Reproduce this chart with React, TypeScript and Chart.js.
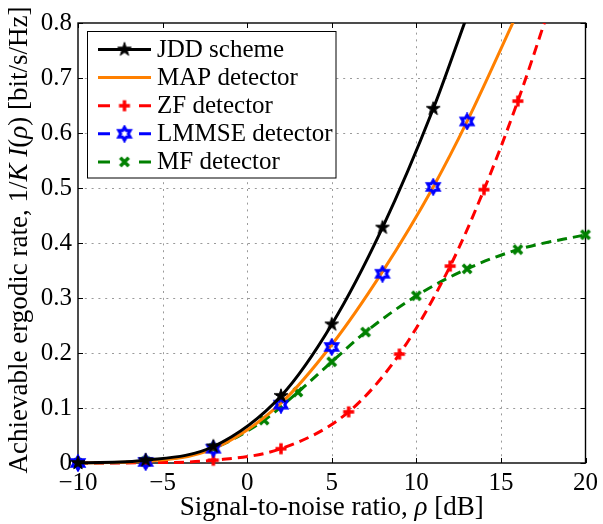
import React, { useEffect, useRef } from 'react';
import { Chart, registerables } from 'chart.js';

Chart.register(...registerables);

// ---- data ----
const xTicks = [-10, -5, 0, 5, 10, 15, 20];
const yTicks = [0, 0.1, 0.2, 0.3, 0.4, 0.5, 0.6, 0.7, 0.8];

const snrJDD = [-10, -6, -2, 2, 5, 8, 11, 13];
const rateJDD = [0, 0.005, 0.03, 0.122, 0.252, 0.428, 0.644, 0.813];

const snrMAP = [-10, -6, -2, 2, 5, 8, 11, 13, 16];
const rateMAP = [0, 0.003, 0.026, 0.109, 0.215, 0.348, 0.502, 0.621, 0.82];

const snrZF = [-10, -6, -2, 2, 6, 9, 12, 14, 16, 18];
const rateZF = [0, 0.0005, 0.005, 0.026, 0.093, 0.198, 0.358, 0.497, 0.658, 0.84];

const snrLMMSE = [-10, -6, -2, 2, 5, 8, 11, 13];
const rateLMMSE = [0, 0.002, 0.026, 0.106, 0.211, 0.344, 0.502, 0.621];

const snrMF = [-10, -6, -2, 1, 3, 5, 7, 10, 13, 16, 20];
const rateMF = [0, 0.003, 0.027, 0.078, 0.129, 0.184, 0.238, 0.304, 0.353, 0.388, 0.415];

const legendLabels = ['JDD scheme', 'MAP detector', 'ZF detector', 'LMMSE detector', 'MF detector'];

const xTitleSegs: [string, boolean][] = [['Signal-to-noise ratio, ', false], ['\u03C1', true], [' [dB]', false]];
const yTitleSegs: [string, boolean][] = [
  ['Achievable ergodic rate, 1/', false],
  ['K', true],
  [' ', false],
  ['I', true],
  ['(', false],
  ['\u03C1', true],
  [') [bit/s/Hz]', false],
];

const FONT = "'Liberation Serif', serif";
const TICK_FS = 25;
const LEG_FS = 25;
const TITLE_FS = 27;

const toXY = (xs: number[], ys: number[]) => xs.map((x, i) => ({ x, y: ys[i] }));

function makeMarker(kind: string, color: string): HTMLCanvasElement {
  const c = document.createElement('canvas');
  c.width = 18;
  c.height = 18;
  const g = c.getContext('2d')!;
  g.translate(9, 9);
  g.strokeStyle = color;
  g.fillStyle = color;
  if (kind === 'pentagram') {
    const R = 7.2, r = R * 0.382;
    g.beginPath();
    for (let i = 0; i < 10; i++) {
      const a = -Math.PI / 2 + (i * Math.PI) / 5;
      const rad = i % 2 === 0 ? R : r;
      const px = Math.cos(a) * rad, py = Math.sin(a) * rad;
      if (i === 0) g.moveTo(px, py); else g.lineTo(px, py);
    }
    g.closePath();
    g.fill();
    g.lineWidth = 1;
    g.stroke();
  } else if (kind === 'hexagram') {
    const R = 6.6, r = R / Math.sqrt(3);
    g.beginPath();
    for (let i = 0; i < 12; i++) {
      const a = -Math.PI / 2 + (i * Math.PI) / 6;
      const rad = i % 2 === 0 ? R : r;
      const px = Math.cos(a) * rad, py = Math.sin(a) * rad;
      if (i === 0) g.moveTo(px, py); else g.lineTo(px, py);
    }
    g.closePath();
    g.lineWidth = 3;
    g.stroke();
  } else if (kind === 'plus') {
    g.lineWidth = 3.5;
    g.beginPath();
    g.moveTo(-5.5, 0); g.lineTo(5.5, 0);
    g.moveTo(0, -5.5); g.lineTo(0, 5.5);
    g.stroke();
  } else if (kind === 'cross') {
    g.lineWidth = 3.5;
    g.beginPath();
    g.moveTo(-4.2, -4.2); g.lineTo(4.2, 4.2);
    g.moveTo(-4.2, 4.2); g.lineTo(4.2, -4.2);
    g.stroke();
  }
  return c;
}

function richWidth(ctx: CanvasRenderingContext2D, segs: [string, boolean][], fs: number) {
  let w = 0;
  for (const [t, it] of segs) {
    ctx.font = `${it ? 'italic ' : ''}${fs}px ${FONT}`;
    w += ctx.measureText(t).width;
  }
  return w;
}
function drawRich(ctx: CanvasRenderingContext2D, segs: [string, boolean][], x: number, y: number, fs: number) {
  let cx = x;
  for (const [t, it] of segs) {
    ctx.font = `${it ? 'italic ' : ''}${fs}px ${FONT}`;
    ctx.fillText(t, cx, y);
    cx += ctx.measureText(t).width;
  }
}

export default function App() {
  const ref = useRef<HTMLCanvasElement>(null);

  useEffect(() => {
    document.body.style.margin = '0';
    const canvas = ref.current!;
    const mk = {
      jdd: makeMarker('pentagram', '#000000'),
      zf: makeMarker('plus', '#ff0000'),
      lmmse: makeMarker('hexagram', '#0000ff'),
      mf: makeMarker('cross', '#008000'),
    };
    const clip = { left: 12, top: 0, right: 12, bottom: 12 };
    const DASH = [10, 6];

    const legendItems = [
      { color: '#000000', dash: false, marker: mk.jdd as HTMLCanvasElement | null },
      { color: '#ff8000', dash: false, marker: null },
      { color: '#ff0000', dash: true, marker: mk.zf },
      { color: '#0000ff', dash: true, marker: mk.lmmse },
      { color: '#008000', dash: true, marker: mk.mf },
    ];

    const framePlugin = {
      id: 'frame',
      beforeDatasetsDraw(ch: any) {
        const { ctx, chartArea: a, scales } = ch;
        const xs = scales.x, ys = scales.y;
        ctx.save();
        ctx.strokeStyle = '#9a9a9a';
        ctx.lineWidth = 1;
        ctx.setLineDash([2, 4.8]);
        for (const v of yTicks) {
          if (v === yTicks[0] || v === yTicks[yTicks.length - 1]) continue;
          const py = Math.round(ys.getPixelForValue(v)) + 0.5;
          ctx.beginPath(); ctx.moveTo(a.left, py); ctx.lineTo(a.right, py); ctx.stroke();
        }
        for (const v of xTicks) {
          if (v === xTicks[0] || v === xTicks[xTicks.length - 1]) continue;
          const px = Math.round(xs.getPixelForValue(v)) + 0.5;
          ctx.beginPath(); ctx.moveTo(px, a.bottom); ctx.lineTo(px, a.top); ctx.stroke();
        }
        ctx.setLineDash([]);
        ctx.strokeStyle = '#000';
        ctx.lineWidth = 1;
        const TL = 5;
        for (const v of yTicks) {
          const py = Math.round(ys.getPixelForValue(v)) + 0.5;
          ctx.beginPath();
          ctx.moveTo(a.left, py); ctx.lineTo(a.left + TL, py);
          ctx.moveTo(a.right, py); ctx.lineTo(a.right - TL, py);
          ctx.stroke();
        }
        for (const v of xTicks) {
          const px = Math.round(xs.getPixelForValue(v)) + 0.5;
          ctx.beginPath();
          ctx.moveTo(px, a.bottom); ctx.lineTo(px, a.bottom - TL);
          ctx.moveTo(px, a.top); ctx.lineTo(px, a.top + TL);
          ctx.stroke();
        }
        ctx.lineWidth = 1.4;
        ctx.strokeRect(a.left, a.top, a.right - a.left, a.bottom - a.top);
        ctx.restore();
      },
      afterDraw(ch: any) {
        const { ctx, chartArea: a } = ch;
        ctx.save();
        ctx.fillStyle = '#000';
        ctx.textBaseline = 'alphabetic';
        const xw = richWidth(ctx, xTitleSegs, TITLE_FS);
        drawRich(ctx, xTitleSegs, (a.left + a.right) / 2 - xw / 2, 515, TITLE_FS);
        const yw = richWidth(ctx, yTitleSegs, TITLE_FS);
        ctx.save();
        ctx.translate(27, (a.top + a.bottom) / 2 - 3);
        ctx.rotate(-Math.PI / 2);
        drawRich(ctx, yTitleSegs, -yw / 2, 0, TITLE_FS);
        ctx.restore();

        const bx = 87.5, by = 31.5, bw = 248.5, bh = 146.5;
        ctx.fillStyle = '#fff';
        ctx.fillRect(bx, by, bw, bh);
        ctx.strokeStyle = '#000';
        ctx.lineWidth = 1;
        ctx.strokeRect(bx, by, bw, bh);
        legendItems.forEach((it, i) => {
          const cy = 49.5 + i * 28.1;
          ctx.strokeStyle = it.color;
          ctx.lineWidth = 3;
          ctx.beginPath();
          if (it.dash) {
            ctx.moveTo(98, cy); ctx.lineTo(110, cy);
            ctx.moveTo(139, cy); ctx.lineTo(151, cy);
          } else {
            ctx.moveTo(98, cy); ctx.lineTo(151, cy);
          }
          ctx.stroke();
          if (it.marker) ctx.drawImage(it.marker, 124.5 - 9, cy - 9);
          ctx.fillStyle = '#000';
          ctx.font = `${LEG_FS}px ${FONT}`;
          ctx.textBaseline = 'middle';
          ctx.fillText(legendLabels[i], 157, cy + 1);
        });
        ctx.restore();
      },
    };

    const chart = new Chart(canvas, {
      type: 'line',
      data: {
        datasets: [
          {
            label: legendLabels[0],
            data: toXY(snrJDD, rateJDD),
            borderColor: '#000000',
            backgroundColor: '#000000',
            borderWidth: 3,
            pointStyle: mk.jdd,
            pointRadius: (c: any) => (c.dataIndex < snrJDD.length - 1 ? 6 : 0),
            cubicInterpolationMode: 'monotone',
            order: 0,
            clip,
          },
          {
            label: legendLabels[3],
            data: toXY(snrLMMSE, rateLMMSE),
            showLine: false,
            borderColor: '#0000ff',
            pointStyle: mk.lmmse,
            pointRadius: 6,
            order: 1,
            clip,
          },
          {
            label: legendLabels[1],
            data: toXY(snrMAP, rateMAP),
            borderColor: '#ff8000',
            borderWidth: 3,
            pointRadius: 0,
            cubicInterpolationMode: 'monotone',
            order: 2,
            clip,
          },
          {
            label: legendLabels[2],
            data: toXY(snrZF, rateZF),
            borderColor: '#ff0000',
            borderWidth: 3,
            borderDash: DASH,
            pointStyle: mk.zf,
            pointRadius: (c: any) => (c.dataIndex < snrZF.length - 1 ? 6 : 0),
            cubicInterpolationMode: 'monotone',
            order: 3,
            clip,
          },
          {
            label: legendLabels[4],
            data: toXY(snrMF, rateMF),
            borderColor: '#008000',
            borderWidth: 3,
            borderDash: DASH,
            pointStyle: mk.mf,
            pointRadius: 6,
            cubicInterpolationMode: 'monotone',
            order: 4,
            clip,
          },
        ] as any,
      },
      options: {
        animation: false,
        responsive: false,
        events: [],
        layout: { padding: { top: 23, right: 15, left: 0, bottom: 0 } },
        plugins: { legend: { display: false }, tooltip: { enabled: false } },
        scales: {
          x: {
            type: 'linear',
            min: -10,
            max: 20,
            afterBuildTicks: (s: any) => { s.ticks = xTicks.map((v) => ({ value: v })); },
            afterFit: (s: any) => { s.height = 61; },
            grid: { display: false, drawTicks: false },
            border: { display: false },
            ticks: {
              color: '#000',
              font: { family: FONT, size: TICK_FS },
              padding: 5,
              maxRotation: 0,
              callback: (v: any) => (v < 0 ? '\u2212' + Math.abs(v) : String(v)),
            },
          },
          y: {
            type: 'linear',
            min: 0,
            max: 0.8,
            afterBuildTicks: (s: any) => { s.ticks = yTicks.map((v) => ({ value: v })); },
            afterFit: (s: any) => { s.width = 78; },
            grid: { display: false, drawTicks: false },
            border: { display: false },
            ticks: {
              color: '#000',
              font: { family: FONT, size: TICK_FS },
              padding: 6,
              callback: (v: any) => (v === 0 ? '0' : Number(v).toFixed(1)),
            },
          },
        },
      } as any,
      plugins: [framePlugin],
    });
    return () => chart.destroy();
  }, []);

  return <canvas ref={ref} width={603} height={524} style={{ display: 'block' }} />;
}
